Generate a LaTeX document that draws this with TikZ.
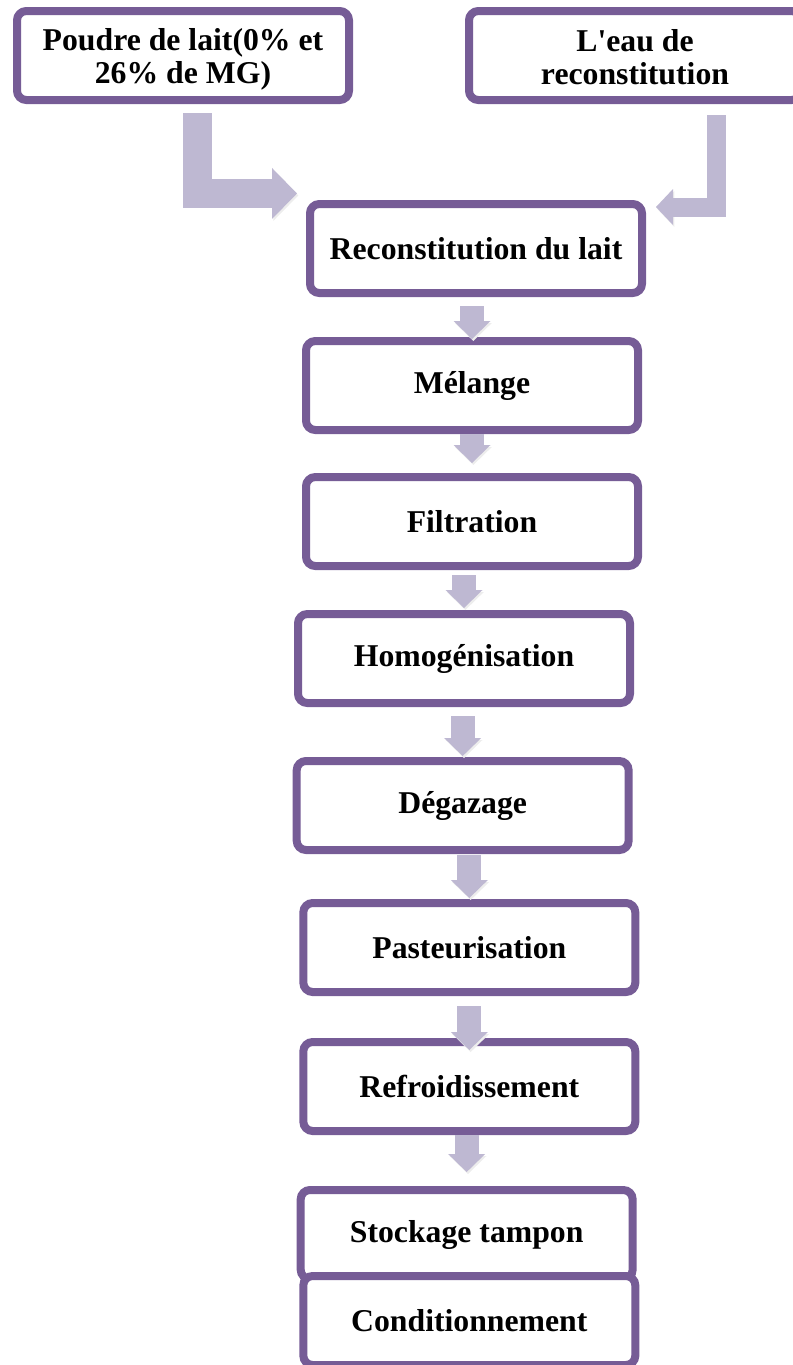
\documentclass[tikz,border=0pt]{standalone}
\usepackage{fontspec}
\setmainfont{Liberation Serif}
\usetikzlibrary{positioning,arrows.meta,shadows,calc}
\definecolor{cadre}{RGB}{118,92,150}
\definecolor{flechec}{RGB}{190,184,210}

\begin{document}
\begin{tikzpicture}[x=0.75pt, y=-0.75pt,
  etape/.style={draw=cadre, line width=6pt, rounded corners=7pt, fill=white,
    minimum width=249pt, minimum height=66.75pt, align=center,
    font=\fontsize{23.8}{24.75}\selectfont\bfseries,
    drop shadow={shadow xshift=1.5pt, shadow yshift=-2pt, opacity=.2}},
  fleche/.style={draw=flechec, line width=18pt,
    -{Triangle[length=13.5pt, width=27.75pt, line width=0pt]},
    preaction={draw=black!7, transform canvas={shift={(1pt,-1.5pt)}}}},
  coude/.style={fleche, line width=21.75pt,
    -{Triangle[length=18.75pt, width=38.25pt, line width=0pt]}}]
\useasboundingbox (0,0) rectangle (793,1365);

\node[etape] (poudre) at (183,55.5) {\rule{0pt}{23pt}Poudre de lait(0\% et\\26\% de MG)};
\node[etape, right=84pt of poudre] (eau) {\rule{0pt}{19.5pt}L\textquotesingle eau de\\reconstitution};
\node[etape] (recon) at (476,248.5) {Reconstitution du lait};
\node[etape, below=30pt of recon, xshift=-3pt] (melange) {Mélange};
\node[etape, below=29.25pt of melange] (filtration) {Filtration};
\node[etape, below=30pt of filtration, xshift=-6pt] (homog) {Homogénisation};
\node[etape, below=37.5pt of homog, xshift=-1pt] (degazage) {Dégazage};
\node[etape, below=33.75pt of degazage, xshift=5pt] (pasteur) {Pasteurisation};
\node[etape, below=31.5pt of pasteur] (refroid) {Refroidissement};
\node[etape, below=38.25pt of refroid, xshift=-2pt] (stockage) {Stockage tampon};
\node[etape, below=-8.25pt of stockage, xshift=2pt] (cond) {Conditionnement};

% entrees
\draw[coude] ([xshift=10.9pt, yshift=-6.75pt]poudre.south) |- ([xshift=-6.75pt, yshift=4.9pt]recon.north west);
\draw[coude, line width=14.25pt, -{Triangle[length=12.75pt, width=27pt, line width=0pt]}]
  ([xshift=60.75pt, yshift=-8.25pt]eau.south) |- ([xshift=7.5pt, yshift=-5.25pt]recon.north east);

% etapes
\draw[fleche] ($(recon.south -| melange.north)+(0,-6.75pt)$) -- ([yshift=-1.5pt]melange.north);
\draw[fleche] (melange.south -| filtration.north) -- ([yshift=7.5pt]filtration.north);
\draw[fleche] ($(filtration.south -| homog.north)+(0,-3.75pt)$) -- ([yshift=1.5pt]homog.north);
\draw[fleche] ($(homog.south -| degazage.north)+(0,-6.75pt)$) -- ([yshift=0.75pt]degazage.north);
\draw[fleche] ($(degazage.south -| pasteur.north)+(0,-0.75pt)$) -- ([yshift=0.75pt]pasteur.north);
\draw[fleche] ($(pasteur.south -| refroid.north)+(0,-7.5pt)$) -- ([yshift=-9pt]refroid.north);
\draw[fleche] (refroid.south -| stockage.north) -- ([yshift=10.5pt]stockage.north);
\end{tikzpicture}
\end{document}
